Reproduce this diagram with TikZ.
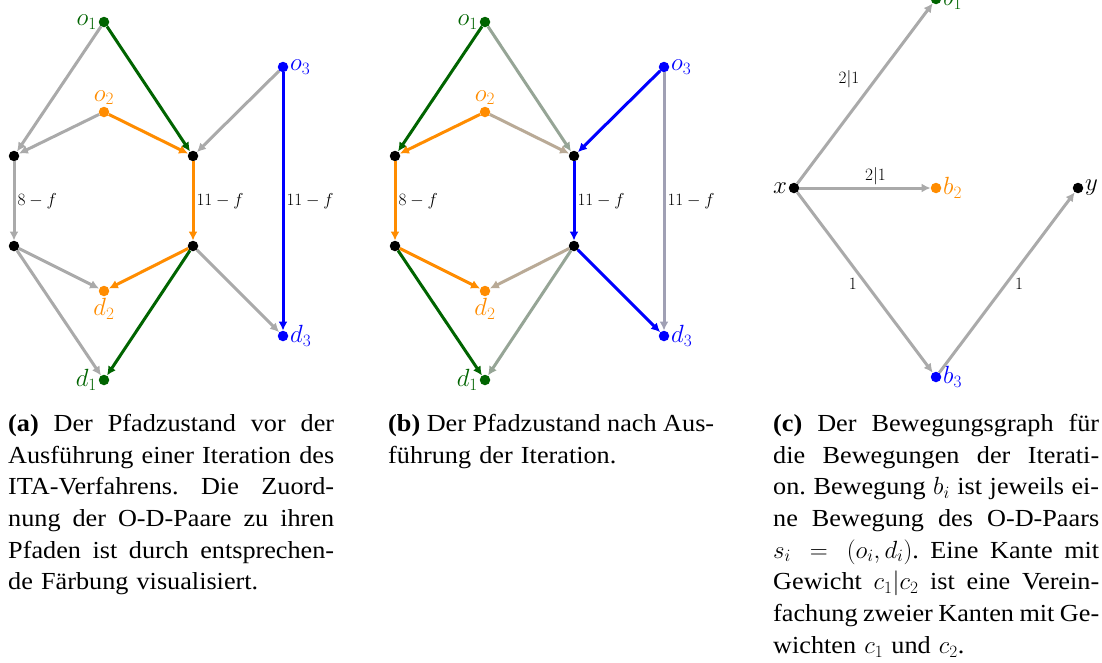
\documentclass[tikz,border=0pt]{standalone}
\usepackage[no-math]{fontspec}
\newfontfamily\capfont[FakeStretch=1.07]{Liberation Serif}
\usetikzlibrary{arrows.meta}
\definecolor{dgreen}{RGB}{0,100,0}
\definecolor{dorange}{RGB}{255,140,0}
\definecolor{dblue}{RGB}{0,0,255}
\definecolor{egray}{RGB}{170,170,170}
\definecolor{oldgreen}{RGB}{150,165,150}
\definecolor{oldorange}{RGB}{185,170,150}
\definecolor{oldblue}{RGB}{160,160,180}
\newlength\capw
\setlength\capw{326pt}
\newcommand{\jline}[1]{\makebox[\capw][s]{\spaceskip=0.25em plus 3em minus 0.1em\relax\xspaceskip=\spaceskip #1}}
\tikzset{
  vtx/.style={circle, fill=#1, inner sep=0pt, minimum size=10.5pt},
  vtx/.default=black,
  arr/.style={line width=3pt, draw=#1, -{Latex[length=9pt,width=9pt]}},
  lab/.style={font=\fontsize{24}{28}\selectfont, inner sep=1.5pt},
  elab/.style={font=\fontsize{16}{19}\selectfont, inner sep=2pt, text=black},
  capt/.style={font=\capfont\fontsize{24.5}{31.7}\selectfont, align=left, inner sep=0pt, text width=\capw, anchor=north west},
}
\begin{document}
\begin{tikzpicture}[x=1pt,y=-1pt]
\useasboundingbox (0,0) rectangle (1102,662);
\clip (0,0) rectangle (1102,662);
% ---------------- panel (a)
\begin{scope}
\node[vtx=dgreen, label={[lab,text=dgreen]left:$o_1$}] (ao1) at (104,22) {};
\node[vtx=dorange, label={[lab,text=dorange]above:$o_2$}] (ao2) at (104,112) {};
\node[vtx=dblue, label={[lab,text=dblue]right:$o_3$}] (ao3) at (283,67) {};
\node[vtx] (aL1) at (14,156) {};
\node[vtx] (aR1) at (193,156) {};
\node[vtx] (aL2) at (14,246) {};
\node[vtx] (aR2) at (193,246) {};
\node[vtx=dorange, label={[lab,text=dorange]below:$d_2$}] (ad2) at (104,291) {};
\node[vtx=dblue, label={[lab,text=dblue]right:$d_3$}] (ad3) at (283,336) {};
\node[vtx=dgreen, label={[lab,text=dgreen]left:$d_1$}] (ad1) at (104,380) {};
\draw[arr=egray] (ao1) -- (aL1);
\draw[arr=egray] (ao2) -- (aL1);
\draw[arr=egray] (ao3) -- (aR1);
\draw[arr=egray] (aL1) -- node[elab, right] {$8-f$} (aL2);
\draw[arr=egray] (aL2) -- (ad2);
\draw[arr=egray] (aL2) -- (ad1);
\draw[arr=egray] (aR2) -- (ad3);
\draw[arr=dgreen] (ao1) -- (aR1);
\draw[arr=dorange] (ao2) -- (aR1);
\draw[arr=dorange] (aR1) -- node[elab, right] {$11-f$} (aR2);
\draw[arr=dorange] (aR2) -- (ad2);
\draw[arr=dgreen] (aR2) -- (ad1);
\draw[arr=dblue] (ao3) -- node[elab, right] {$11-f$} (ad3);
\end{scope}
% ---------------- panel (b)
\begin{scope}[xshift=381pt]
\node[vtx=dgreen, label={[lab,text=dgreen]left:$o_1$}] (bo1) at (104,22) {};
\node[vtx=dorange, label={[lab,text=dorange]above:$o_2$}] (bo2) at (104,112) {};
\node[vtx=dblue, label={[lab,text=dblue]right:$o_3$}] (bo3) at (283,67) {};
\node[vtx] (bL1) at (14,156) {};
\node[vtx] (bR1) at (193,156) {};
\node[vtx] (bL2) at (14,246) {};
\node[vtx] (bR2) at (193,246) {};
\node[vtx=dorange, label={[lab,text=dorange]below:$d_2$}] (bd2) at (104,291) {};
\node[vtx=dblue, label={[lab,text=dblue]right:$d_3$}] (bd3) at (283,336) {};
\node[vtx=dgreen, label={[lab,text=dgreen]left:$d_1$}] (bd1) at (104,380) {};
\draw[arr=oldgreen] (bo1) -- (bR1);
\draw[arr=oldorange] (bo2) -- (bR1);
\draw[arr=oldblue] (bo3) -- node[elab, right] {$11-f$} (bd3);
\draw[arr=oldorange] (bR2) -- (bd2);
\draw[arr=oldgreen] (bR2) -- (bd1);
\draw[arr=dgreen] (bo1) -- (bL1);
\draw[arr=dorange] (bo2) -- (bL1);
\draw[arr=dblue] (bo3) -- (bR1);
\draw[arr=dorange] (bL1) -- node[elab, right] {$8-f$} (bL2);
\draw[arr=dblue] (bR1) -- node[elab, right] {$11-f$} (bR2);
\draw[arr=dorange] (bL2) -- (bd2);
\draw[arr=dgreen] (bL2) -- (bd1);
\draw[arr=dblue] (bR2) -- (bd3);
\end{scope}
% ---------------- panel (c)
\node[vtx, label={[lab]left:$x$}] (cx) at (794,188) {};
\node[vtx=dgreen, label={[lab,text=dgreen]right:$b_1$}] (cb1) at (936,-1) {};
\node[vtx=dorange, label={[lab,text=dorange]right:$b_2$}] (cb2) at (936,188) {};
\node[vtx=dblue, label={[lab,text=dblue]right:$b_3$}] (cb3) at (936,377) {};
\node[vtx, label={[lab]right:$y$}] (cy) at (1078,188) {};
\draw[arr=egray] (cx) -- node[elab, pos=0.58, left=13pt] {$2|1$} (cb1);
\draw[arr=egray] (cx) -- node[elab, pos=0.58, above] {$2|1$} (cb2);
\draw[arr=egray] (cx) -- node[elab, pos=0.51, left=6pt] {$1$} (cb3);
\draw[arr=egray] (cb3) -- node[elab, pos=0.49, right=6pt] {$1$} (cy);
% ---------------- captions
\node[capt] (capa) at (8,414) {\jline{\textbf{(a)} Der Pfadzustand vor der}\\
\jline{Ausführung einer Iteration des}\\
\jline{ITA-Verfahrens. Die Zuord-}\\
\jline{nung der O-D-Paare zu ihren}\\
\jline{Pfaden ist durch entsprechen-}\\
de Färbung visualisiert.};
\node[capt] (capb) at (388,414) {\jline{\textbf{(b)} Der Pfadzustand nach Aus-}\\
führung der Iteration.};
\node[capt] (capc) at (773,414) {\jline{\textbf{(c)} Der Bewegungsgraph für}\\
\jline{die Bewegungen der Iterati-}\\
\jline{on. Bewegung $b_i$ ist jeweils ei-}\\
\jline{ne Bewegung des O-D-Paars}\\
\jline{$s_i\ =\ (o_i, d_i)$. Eine Kante mit}\\
\jline{Gewicht $c_1|c_2$ ist eine Verein-}\\
\jline{fachung zweier Kanten mit Ge-}\\
wichten $c_1$ und $c_2$.};
\end{tikzpicture}
\end{document}
